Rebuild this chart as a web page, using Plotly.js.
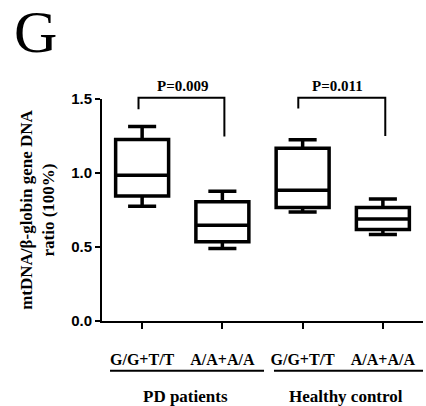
<!DOCTYPE html>
<html>
<head>
<meta charset="utf-8">
<script src="https://cdn.plot.ly/plotly-3.0.1.min.js"></script>
<style>html,body{margin:0;padding:0;background:#fff;}#chart{width:426px;height:406px;}</style>
</head>
<body>
<div id="chart"></div>
<script>
// ---- data ----
const positions = [0, 1, 2, 3];
const tickLabels = ['G/G+T/T', 'A/A+A/A', 'G/G+T/T', 'A/A+A/A'];
const groupLabels = ['PD patients', 'Healthy control'];
const upperWhisker = [1.315, 0.877, 1.225, 0.825];
const q3 = [1.227, 0.805, 1.167, 0.767];
const median = [0.985, 0.647, 0.883, 0.690];
const q1 = [0.845, 0.535, 0.767, 0.618];
const lowerWhisker = [0.775, 0.490, 0.737, 0.585];
const pValues = ['P=0.009', 'P=0.011'];
const panelLabel = 'G';
const yTitle = 'mtDNA/β-globin gene DNA<br>ratio (100%)';

// ---- decoration geometry ----
const yMax = 1.5;
const brackets = [
  {xl: -0.045, xr: 1.025, top: 1.509, left: 1.431, right: 1.246, tx: 0.497},
  {xl: 1.946, xr: 3.03, top: 1.509, left: 1.436, right: 1.25, tx: 2.43}
];
const groupSpans = [[-0.4, 1.519, 0.54], [1.643, 3.5, 2.54]];

const serif = 'Liberation Serif, Times New Roman, serif';
const sans = 'Liberation Sans, Arial, sans-serif';

const trace = {
  type: 'box',
  x: positions,
  q1: q1,
  median: median,
  q3: q3,
  lowerfence: lowerWhisker,
  upperfence: upperWhisker,
  width: 0.66,
  whiskerwidth: 0.53,
  boxpoints: false,
  fillcolor: 'rgba(255,255,255,0)',
  line: {color: '#000', width: 3.5},
  showlegend: false,
  hoverinfo: 'skip'
};

const shapes = [];
const annotations = [];
brackets.forEach((b, i) => {
  const py = v => v / yMax;
  shapes.push({
    type: 'path', xref: 'x', yref: 'paper',
    path: `M ${b.xl} ${py(b.left)} L ${b.xl} ${py(b.top)} L ${b.xr} ${py(b.top)} L ${b.xr} ${py(b.right)}`,
    line: {color: '#000', width: 2}
  });
  annotations.push({
    text: pValues[i], xref: 'x', yref: 'paper', x: b.tx, y: 1.0586,
    xanchor: 'center', yanchor: 'middle', showarrow: false,
    font: {family: serif, size: 15, weight: 'bold', color: '#000'}
  });
});
groupSpans.forEach((g, i) => {
  shapes.push({
    type: 'line', xref: 'x', yref: 'paper', x0: g[0], x1: g[1], y0: -0.224, y1: -0.224,
    line: {color: '#000', width: 2}
  });
  annotations.push({
    text: groupLabels[i], xref: 'x', yref: 'paper', x: g[2], y: -0.341,
    xanchor: 'center', yanchor: 'middle', showarrow: false,
    font: {family: serif, size: 17, weight: 'bold', color: '#000'}
  });
});
annotations.push({
  text: panelLabel, xref: 'paper', yref: 'paper', x: -0.2087, y: 1.304,
  xanchor: 'center', yanchor: 'middle', showarrow: false,
  font: {family: serif, size: 60, color: '#000'}
});

const layout = {
  width: 426, height: 406,
  margin: {l: 102, r: 3, t: 99, b: 85},
  paper_bgcolor: '#fff', plot_bgcolor: '#fff',
  xaxis: {
    range: [-0.5, 3.5], tickvals: positions, ticktext: tickLabels,
    showline: true, linewidth: 2, linecolor: '#000',
    ticks: 'outside', ticklen: 6, tickwidth: 2, tickcolor: '#000',
    ticklabelstandoff: 17,
    tickfont: {family: serif, size: 16, weight: 'bold', color: '#000'},
    showgrid: false, zeroline: false, fixedrange: true
  },
  yaxis: {
    range: [0, yMax], tickvals: [0, 0.5, 1.0, 1.5], tickformat: '.1f',
    showline: true, linewidth: 2, linecolor: '#000',
    ticks: 'outside', ticklen: 5, tickwidth: 2, tickcolor: '#000',
    tickfont: {family: sans, size: 15, weight: 'bold', color: '#000'},
    showgrid: false, zeroline: false, fixedrange: true,
    title: {text: yTitle, standoff: 12, font: {family: serif, size: 17, weight: 'bold', color: '#000'}}
  },
  shapes: shapes,
  annotations: annotations
};

Plotly.newPlot('chart', [trace], layout, {displayModeBar: false, staticPlot: true});
</script>
</body>
</html>
